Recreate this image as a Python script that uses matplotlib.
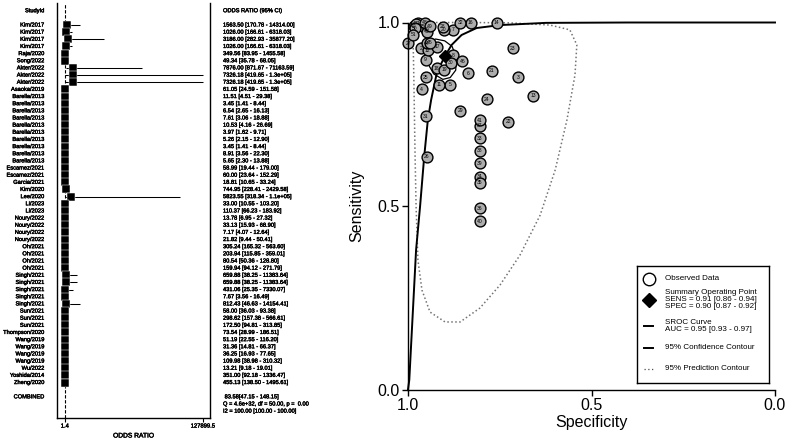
import numpy as np
import matplotlib
matplotlib.use('Agg')
import matplotlib.pyplot as plt
import matplotlib.patheffects as pe
from matplotlib.transforms import blended_transform_factory

plt.rcParams['font.family'] = ['Liberation Sans', 'DejaVu Sans']

W, H = 789, 441

# ---------------- forest plot data (odds ratio, 95% CI)
study = ['Kim/2017', 'Kim/2017', 'Kim/2017', 'Kim/2017', 'Raja/2020',
         'Song/2022', 'Akter/2022', 'Akter/2022', 'Akter/2022',
         'Asaoka/2019'] + ['Barella/2013'] * 10 + \
        ['Escamez/2021', 'Escamez/2021', 'Garcia/2021', 'Kim/2020',
         'Lee/2020', 'Li/2023', 'Li/2023'] + ['Noury/2022'] * 4 + \
        ['Oh/2021'] * 4 + ['Singh/2021'] * 5 + ['Sun/2021'] * 3 + \
        ['Thompson/2020'] + ['Wang/2019'] * 4 + \
        ['Wu/2022', 'Yoshida/2014', 'Zheng/2020']
odds = [1563.50, 1026.00, 3186.00, 1026.00, 349.56, 49.34, 7876.00, 7326.18,
        7326.18, 61.05, 11.51, 3.45, 6.54, 7.61, 10.53, 3.97, 5.26, 3.45,
        8.91, 5.65, 58.99, 60.00, 18.81, 744.95, 5823.55, 33.00, 110.37,
        13.78, 33.13, 7.17, 21.82, 305.24, 203.94, 80.54, 159.94, 659.88,
        659.88, 431.06, 7.67, 812.43, 58.00, 298.62, 172.50, 73.54, 51.19,
        31.36, 36.25, 109.98, 13.21, 351.00, 455.13]
ci_lo = [170.78, 166.61, 282.93, 166.61, 83.95, 35.78, 871.67, 419.65,
         419.65, 24.59, 4.51, 1.41, 2.65, 3.06, 4.16, 1.62, 2.15, 1.41,
         3.56, 2.30, 19.44, 23.64, 10.65, 228.41, 318.34, 10.55, 66.23,
         6.95, 15.93, 4.07, 9.44, 165.32, 115.85, 50.36, 94.12, 38.25,
         38.25, 25.35, 3.56, 46.63, 36.03, 157.38, 94.81, 28.99, 22.55,
         14.81, 16.93, 38.98, 9.18, 92.18, 138.50]
ci_hi = [14314.00, 6318.03, 35877.20, 6318.03, 1455.58, 68.05, 71163.59,
         127899.5, 127899.5, 151.58, 29.38, 8.44, 16.13, 18.88, 26.69, 9.71,
         12.90, 8.44, 22.30, 13.88, 179.00, 152.29, 33.24, 2429.58, 106500.0,
         103.20, 183.92, 27.32, 68.90, 12.64, 50.41, 563.60, 359.01, 128.80,
         271.79, 11383.64, 11383.64, 7330.07, 16.49, 14154.41, 93.38, 566.61,
         313.85, 186.51, 116.20, 66.37, 77.65, 310.32, 19.01, 1336.47,
         1495.61]
pooled = [83.58, 47.15, 148.15]
pooled_stats = ['Q = 4.6e+32, df = 50.00, p =  0.00',
                'I2 = 100.00 [100.00 - 100.00]']
or_ticks = [1.4, 127899.5]

# ---------------- SROC data (specificity, sensitivity)
obs_id = list(range(1, 52))
obs_spec = [0.972, 0.965, 0.701, 0.963, 0.885, 0.836, 0.878, 0.878, 0.952,
            0.951, 0.916, 0.946, 0.659, 0.758, 0.960, 0.829, 0.920, 0.922,
            0.901, 0.902, 0.772, 0.727, 0.715, 0.786, 0.952, 0.949, 1.000,
            0.905, 0.858, 0.883, 0.952, 0.858, 0.804, 0.804, 0.804, 0.804,
            0.804, 0.804, 0.804, 0.804, 0.804, 0.985, 0.948, 0.949, 0.940,
            0.852, 0.978, 0.954, 0.940, 0.981, 0.986]
obs_sens = [0.998, 0.930, 0.851, 0.818, 0.830, 0.862, 0.980, 0.911, 0.898,
            0.981, 0.830, 0.925, 0.801, 1.000, 0.990, 1.000, 0.934, 0.875,
            0.871, 0.980, 0.868, 0.730, 0.930, 0.791, 0.851, 0.634, 0.943,
            0.989, 0.759, 0.890, 0.745, 1.000, 0.684, 0.580, 0.563, 0.494,
            0.718, 0.650, 0.616, 0.459, 0.734, 0.990, 0.975, 0.943, 0.945,
            0.895, 0.996, 1.000, 0.990, 0.984, 0.966]
summary_pt = (0.90, 0.91)
sroc_spec = [1.0, 0.9965, 0.978, 0.967, 0.956, 0.946, 0.937, 0.921, 0.899,
             0.881, 0.854, 0.813, 0.749, 0.624, 0.40, 0.0]
sroc_sens = [0.0, 0.026, 0.380, 0.500, 0.633, 0.734, 0.789, 0.865, 0.909,
             0.939, 0.966, 0.985, 0.993, 0.999, 1.0, 1.0]
conf_spec = [0.950, 0.945, 0.925, 0.900, 0.880, 0.868, 0.870, 0.885, 0.905,
             0.930, 0.947, 0.950]
conf_sens = [0.925, 0.945, 0.955, 0.950, 0.935, 0.905, 0.870, 0.850, 0.845,
             0.860, 0.890, 0.925]
pred_spec = [0.986, 0.984, 0.981, 0.978, 0.973, 0.962, 0.940, 0.899, 0.858,
             0.804, 0.749, 0.695, 0.640, 0.599, 0.567, 0.545, 0.540, 0.559,
             0.613, 0.722, 0.831, 0.940, 0.981, 0.986]
pred_sens = [0.952, 0.843, 0.653, 0.500, 0.353, 0.271, 0.211, 0.184, 0.184,
             0.222, 0.285, 0.366, 0.475, 0.598, 0.734, 0.857, 0.939, 0.980,
             0.993, 0.999, 1.000, 1.000, 0.993, 0.952]
legend_text = ['Observed Data',
               'Summary Operating Point', 'SENS = 0.91 [0.86 - 0.94]',
               'SPEC = 0.90 [0.87 - 0.92]',
               'SROC Curve', 'AUC = 0.95 [0.93 - 0.97]',
               '95% Confidence Contour', '95% Prediction Contour']


def box(x0, y0, x1, y1):
    # pixel box -> figure fraction
    return [x0 / W, 1 - y1 / H, (x1 - x0) / W, (y1 - y0) / H]


def fmt(v):
    return '%.1e' % v if v >= 1e5 else '%.2f' % v


heavy = [pe.withStroke(linewidth=0.3, foreground='k')]

fig = plt.figure(figsize=(W / 100, H / 100), dpi=100)

# ---------------- forest plot
axf = fig.add_axes(box(57, 3, 210, 418))
rows = np.arange(2, 2 + len(study))
axf.hlines(rows, ci_lo, ci_hi, color='k', lw=0.75)
axf.plot(odds, rows, 's', ms=5.3, mfc='k', mec='w', mew=0.35, ls='none')
axf.axvline(pooled[0], color='k', lw=0.8, ls=(0, (3, 1.5)), zorder=0)
rng = or_ticks[1] - or_ticks[0]
axf.set_xlim(or_ticks[0] - 0.057 * rng, or_ticks[1] + 0.051 * rng)
axf.set_ylim(56.96, -1.08)
axf.spines['top'].set_visible(False)
for sp in axf.spines.values():
    sp.set_linewidth(1)
axf.set_yticks([])
axf.set_xticks(or_ticks)
axf.set_xticklabels([str(t) for t in or_ticks], fontsize=4.2,
                    path_effects=heavy)
axf.tick_params(axis='x', length=3, width=0.8, pad=1)
axf.set_xlabel('ODDS RATIO', fontsize=4.8, va='center', path_effects=heavy)
axf.xaxis.set_label_coords(0.5, (418 - 436) / 415)

tr = blended_transform_factory(axf.transAxes, axf.transData)
small = dict(fontsize=4.1, va='center', transform=tr, path_effects=heavy)
axf.text(-0.085, 0, 'StudyId', ha='right', **small)
axf.text(1.085, 0, 'ODDS RATIO (95% CI)', ha='left', **small)
for r, s, o, lo, hi in zip(rows, study, odds, ci_lo, ci_hi):
    axf.text(-0.085, r, s, ha='right', **small)
    axf.text(1.085, r, '%s [%s - %s]' % (fmt(o), fmt(lo), fmt(hi)),
             ha='left', **small)
r0 = rows[-1] + 2
axf.text(-0.085, r0, 'COMBINED', ha='right', **small)
axf.text(1.085, r0, ' %.2f[%.2f - %.2f]' % tuple(pooled), ha='left', **small)
for k, line in enumerate(pooled_stats):
    axf.text(1.085, r0 + 1 + k, line, ha='left', **small)

# ---------------- SROC plot
axs = fig.add_axes(box(408, 22.5, 775, 389.5))
axs.set_xlim(1, 0)
axs.set_ylim(0, 1)
axs.plot(pred_spec, pred_sens, color='0.45', lw=1.1, ls=(0, (1, 1.6)),
         clip_on=False)
axs.plot(sroc_spec, sroc_sens, color='k', lw=1.4, clip_on=False)
axs.plot(conf_spec, conf_sens, color='k', lw=0.9)
axs.plot(obs_spec, obs_sens, 'o', ms=7.8, mfc='0.68', mec='k', mew=1.0,
         ls='none', clip_on=False)
for i, x, y in zip(obs_id, obs_spec, obs_sens):
    axs.text(x, y, str(i), fontsize=3.6, ha='center', va='center')
axs.plot(*summary_pt, 'D', ms=6, color='k', clip_on=False)
axs.spines['top'].set_visible(False)
axs.spines['right'].set_visible(False)
for sp in axs.spines.values():
    sp.set_linewidth(1)
axs.set_xticks([1.0, 0.5, 0.0])
axs.set_yticks([0.0, 0.5, 1.0])
axs.set_xticklabels(['1.0', '0.5', '0.0'])
axs.set_yticklabels(['0.0', '0.5', '1.0'])
axs.tick_params(length=4.5, width=1, labelsize=11.5, pad=1.5)
axs.set_xlabel('Specificity', fontsize=11.5, va='center')
axs.xaxis.set_label_coords(0.5, (389.5 - 423) / 367)
axs.set_ylabel('Sensitivity', fontsize=11.5, va='center')
axs.yaxis.set_label_coords((357 - 408) / 367, 0.5)

# ---------------- legend box
axl = fig.add_axes(box(637, 266, 769, 383))
axl.set_xlim(637, 769)
axl.set_ylim(383, 266)
axl.set_xticks([])
axl.set_yticks([])
for sp in axl.spines.values():
    sp.set_linewidth(1)
lx, tx = 648.5, 665
axl.plot(lx, 279, 'o', ms=9, mfc='w', mec='k', mew=1)
axl.plot(lx, 300, 'D', ms=7, color='k')
axl.plot([644, 653], [326, 326], color='k', lw=1.4)
axl.plot([644, 653], [348, 348], color='k', lw=1.4)
axl.plot([644, 653], [369, 369], color='0.3', lw=0.9, ls=(0, (1, 2)))
for txt, y in zip(legend_text, [279, 293, 300, 307, 323, 330, 348, 369]):
    axl.text(tx, y, txt, fontsize=5.8, ha='left', va='center')

fig.savefig('out.png', dpi=100)
